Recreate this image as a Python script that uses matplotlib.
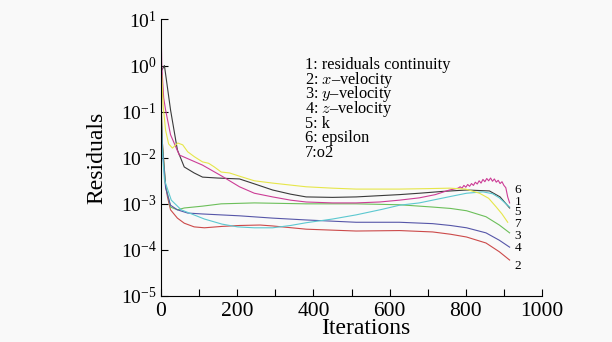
import numpy as np
import matplotlib
matplotlib.use('Agg')
import matplotlib.pyplot as plt
from matplotlib.ticker import MultipleLocator, LogLocator, NullLocator

# residual readings, stored as log10(residual)
it_cont = [2, 9, 25, 43, 61, 87, 109, 148, 206, 250, 293, 340, 381, 450, 512, 580, 626, 678, 740, 802, 862, 890, 915]
log_cont = [-0.1, 0.0, -0.96, -1.83, -2.20, -2.33, -2.42, -2.44, -2.46, -2.58, -2.70, -2.79, -2.85, -2.86, -2.85, -2.82,
            -2.80, -2.77, -2.73, -2.70, -2.72, -2.85, -3.09]

it_xvel = [0, 3, 12, 17, 25, 43, 61, 87, 114, 160, 206, 260, 293, 381, 512, 626, 713, 760, 802, 853, 888, 915]
log_xvel = [-0.6, -1.6, -2.6, -2.85, -3.13, -3.31, -3.42, -3.50, -3.52, -3.49, -3.47, -3.46, -3.48, -3.55, -3.59,
            -3.58, -3.61, -3.66, -3.72, -3.85, -4.04, -4.22]

it_yvel = [0, 3, 12, 25, 43, 61, 109, 158, 245, 381, 512, 626, 713, 760, 802, 853, 888, 915]
log_yvel = [-0.7, -1.6, -2.6, -3.07, -3.13, -3.09, -3.05, -3.00, -2.98, -3.00, -3.00, -3.02, -3.07, -3.10, -3.15,
            -3.28, -3.46, -3.63]

it_zvel = [0, 3, 12, 25, 43, 70, 109, 206, 293, 381, 512, 626, 713, 760, 802, 853, 888, 915]
log_zvel = [-0.9, -1.7, -2.65, -3.03, -3.13, -3.20, -3.22, -3.26, -3.31, -3.35, -3.40, -3.40, -3.43, -3.47, -3.52,
            -3.63, -3.79, -3.94]

it_k = [0, 3, 9, 27, 53, 114, 160, 201, 245, 293, 340, 381, 450, 512, 580, 626, 678, 713, 760, 802, 845, 870, 888, 915]
log_k = [-1.0, -1.8, -2.48, -2.92, -3.13, -3.33, -3.44, -3.50, -3.52, -3.52, -3.47, -3.41, -3.33, -3.24, -3.12,
         -3.03, -2.98, -2.92, -2.84, -2.77, -2.74, -2.78, -2.87, -3.07]

it_eps = [0, 2, 7, 12, 25, 48, 109, 160, 206, 245, 293, 340, 381, 450, 512, 574, 626, 678, 720, 757, 780,
          785, 790, 795, 800, 805, 810, 815, 820, 825, 830, 835, 840, 845, 850, 855, 860, 865, 870, 875, 880,
          885, 890, 895, 900, 905, 910, 915]
log_eps = [1.0, 0.0, -0.7, -0.96, -1.5, -1.94, -2.16, -2.40, -2.63, -2.77, -2.85, -2.92, -2.96, -2.98, -2.98,
           -2.96, -2.92, -2.87, -2.80, -2.70, -2.66,
           -2.63, -2.66, -2.60, -2.64, -2.58, -2.62, -2.56, -2.60, -2.53, -2.57, -2.50, -2.55, -2.47, -2.52,
           -2.45, -2.50, -2.44, -2.51, -2.46, -2.53, -2.49, -2.56, -2.52, -2.60, -2.65, -2.85, -2.98]

it_o2 = [0, 2, 6, 12, 20, 30, 44, 57, 70, 88, 109, 125, 140, 158, 180, 206, 245, 293, 381, 450, 512, 626, 700,
         757, 800, 836, 860, 880, 895, 910]
log_o2 = [-3.0, -0.2, -0.9, -1.4, -1.7, -1.79, -1.68, -1.72, -1.87, -1.98, -2.09, -2.12, -2.20, -2.31, -2.33,
          -2.40, -2.50, -2.55, -2.63, -2.66, -2.68, -2.68, -2.67, -2.66, -2.68, -2.77, -2.88, -3.07, -3.22, -3.40]

series = [
    ('1', it_cont, log_cont, '#3a3a3a'),
    ('2', it_xvel, log_xvel, '#cc4a4a'),
    ('3', it_yvel, log_yvel, '#6cbf5a'),
    ('4', it_zvel, log_zvel, '#5656a8'),
    ('5', it_k, log_k, '#5cc8d0'),
    ('6', it_eps, log_eps, '#cc3d96'),
    ('7', it_o2, log_o2, '#e6e64a'),
]

legend_lines = ['1: residuals continuity', '2: $x$\u2013velocity', '3: $y$\u2013velocity',
                '4: $z$\u2013velocity', '5: k', '6: epsilon', '7:o2']

# end label positions (iteration, log10 residual)
end_labels = {'6': -2.70, '1': -2.96, '5': -3.17, '7': -3.44, '3': -3.70, '4': -3.96, '2': -4.35}

plt.rcParams['font.family'] = 'serif'
plt.rcParams['font.serif'] = ['Liberation Serif', 'DejaVu Serif']
plt.rcParams['mathtext.fontset'] = 'cm'

bg = '#f9f9f9'
fig = plt.figure(figsize=(6.12, 3.42), dpi=100, facecolor=bg)
ax = fig.add_axes([161 / 612, 1 - 296 / 342, 381 / 612, 276.5 / 342], facecolor=bg)

for name, it, lg, col in series:
    ax.plot(it, 10 ** np.array(lg), color=col, linewidth=0.8)

for name, lv in end_labels.items():
    ax.text(928, 10 ** lv, name, fontsize=9.5, va='center', ha='left')

ax.set_yscale('log')
ax.set_xlim(0, 1000)
ax.set_ylim(1e-5, 1e1)

ax.xaxis.set_major_locator(MultipleLocator(200))
ax.xaxis.set_minor_locator(MultipleLocator(100))
ax.yaxis.set_major_locator(LogLocator(base=10, numticks=10))
ax.yaxis.set_minor_locator(NullLocator())
ax.tick_params(which='both', direction='in', top=False, right=False, width=0.8, length=5)
ax.tick_params(axis='x', pad=4, labelsize=15.5)
ax.tick_params(axis='y', pad=3, labelsize=14)
for lab in ax.get_xticklabels():
    lab.set_fontfamily('Liberation Serif')

for s in ['top', 'right']:
    ax.spines[s].set_visible(False)
for s in ['left', 'bottom']:
    ax.spines[s].set_linewidth(0.8)

ax.set_xlabel('Iterations', fontsize=17)
ax.xaxis.set_label_coords(205 / 381, -0.078)
ax.set_ylabel('Residuals', fontsize=17)
ax.yaxis.set_label_coords(-0.142, 0.50)

# key lines placed one by one, 14.7 px apart
for i, line in enumerate(legend_lines):
    fig.text(305 / 612, 1 - (65 + i * 14.7) / 342, line, fontsize=11.8, va='center', ha='left')

fig.savefig('out.png', dpi=100, facecolor=bg)
